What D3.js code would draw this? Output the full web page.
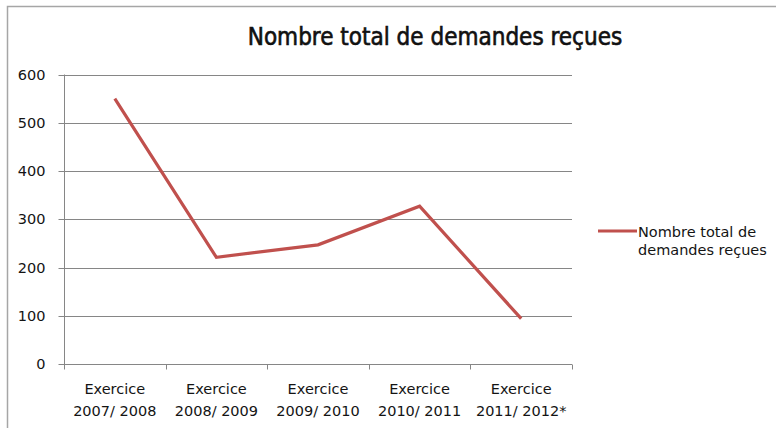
<!DOCTYPE html>
<html>
<head>
<meta charset="utf-8">
<script src="https://cdn.jsdelivr.net/npm/d3@7"></script>
<style>
html,body{margin:0;padding:0;background:#fff;}
svg{display:block;}
</style>
</head>
<body>
<svg id="chart" width="776" height="428"></svg>
<script>
const categories = [["Exercice","2007/ 2008"],["Exercice","2008/ 2009"],["Exercice","2009/ 2010"],["Exercice","2010/ 2011"],["Exercice","2011/ 2012*"]];
const values = [550, 221, 247, 327, 94];
const yTicks = [0, 100, 200, 300, 400, 500, 600];
const seriesName = ["Nombre total de", "demandes reçues"];
const title = "Nombre total de demandes reçues";

(function () {
const svg = d3.select("#chart");
const font = "'DejaVu Sans', sans-serif";
const fs = 14.5;
const pLeft = 64, pRight = 572, pTop = 74.5, pBottom = 364;

// frame
svg.append("path").attr("d", "M7.5,430 V6.5 H780").attr("fill","none").attr("stroke","#a6a6a6").attr("stroke-width",1.5);

svg.append("text").attr("x", 435).attr("y", 45).attr("text-anchor","middle")
  .attr("font-family","'DejaVu Sans Condensed', sans-serif")
  .attr("font-size", 24).attr("fill","#111").attr("stroke", "#111").attr("stroke-width", 0.6).text(title);

const x = d3.scaleBand().domain(d3.range(categories.length)).range([pLeft, pRight]);
const y = d3.scaleLinear().domain([0, 600]).range([pBottom, pTop]);

// gridlines
svg.append("g").selectAll("line").data(yTicks.filter(d => d > 0)).join("line")
  .attr("x1", pLeft).attr("x2", pRight)
  .attr("y1", d => Math.round(y(d)) + 0.5).attr("y2", d => Math.round(y(d)) + 0.5)
  .attr("stroke", "#868686").attr("stroke-width", 1);

// y axis
const yAxis = svg.append("g").attr("transform", `translate(${pLeft + 0.5},0)`)
  .call(d3.axisLeft(y).tickValues(yTicks).tickSize(6).tickPadding(13).tickFormat(d3.format("d")));
yAxis.select(".domain").attr("stroke", "#868686").attr("d", `M0,${pTop}V${pBottom}`);
yAxis.selectAll(".tick line").attr("stroke", "#868686");
yAxis.selectAll(".tick").attr("transform", d => `translate(0,${Math.round(y(d)) + 0.5})`);
yAxis.selectAll("text").attr("font-family", font).attr("font-size", fs).attr("fill", "#141414");

// x axis
const xAxis = svg.append("g").attr("transform", `translate(0,${pBottom + 0.5})`);
xAxis.append("line").attr("x1", pLeft).attr("x2", pRight).attr("stroke", "#868686");
const bounds = d3.range(categories.length + 1).map(i => i < categories.length ? x(i) : x(i - 1) + x.bandwidth());
xAxis.selectAll("line.tk").data(bounds).join("line").attr("class","tk")
  .attr("x1", d => Math.round(d) + 0.5).attr("x2", d => Math.round(d) + 0.5)
  .attr("y1", 0).attr("y2", 5).attr("stroke", "#868686");
const lbl = xAxis.selectAll("text").data(categories).join("text")
  .attr("x", (d, i) => x(i) + x.bandwidth() / 2)
  .attr("text-anchor", "middle").attr("font-family", font).attr("font-size", fs).attr("fill", "#141414");
lbl.append("tspan").attr("x", (d, i) => x(i) + x.bandwidth() / 2).attr("y", 29).text(d => d[0]);
lbl.append("tspan").attr("x", (d, i) => x(i) + x.bandwidth() / 2).attr("y", 51).text(d => d[1]);

// line
const line = d3.line().x((d, i) => x(i) + x.bandwidth() / 2).y(d => y(d));
svg.append("path").datum(values).attr("d", line)
  .attr("fill", "none").attr("stroke", "#c0504d").attr("stroke-width", 3.2).attr("stroke-linejoin", "miter");

// legend
const lg = svg.append("g");
lg.append("line").attr("x1", 598).attr("x2", 637).attr("y1", 231).attr("y2", 231)
  .attr("stroke", "#c0504d").attr("stroke-width", 3.2);
const lt = lg.append("text").attr("font-family", font).attr("font-size", fs).attr("fill", "#141414");
lt.selectAll("tspan").data(seriesName).join("tspan").attr("x", 638).attr("y", (d, i) => 237 + i * 18).text(d => d);
})();
</script>
</body>
</html>
